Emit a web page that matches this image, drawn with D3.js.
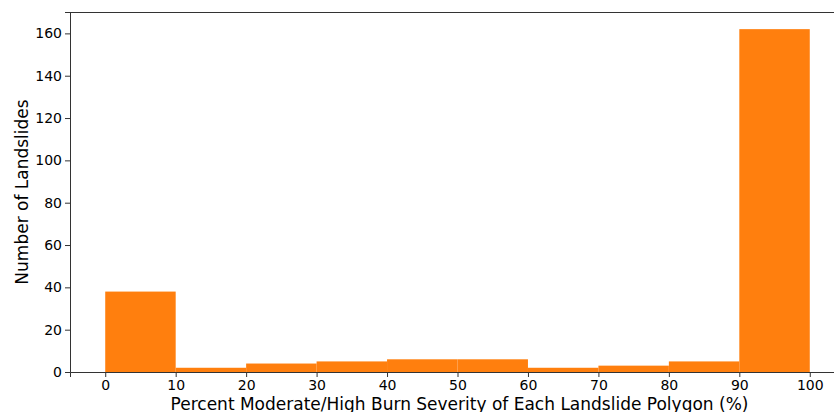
<!DOCTYPE html>
<html>
<head>
<meta charset="utf-8">
<script src="https://cdn.jsdelivr.net/npm/d3@7"></script>
<style>
  html, body { margin: 0; padding: 0; background: #fff; }
  svg { display: block; }
  text { font-family: "DejaVu Sans", sans-serif; fill: #000; }
</style>
</head>
<body>
<svg id="chart" width="834" height="412"></svg>
<script>
// Histogram bins (percent moderate/high burn severity) and landslide counts
const binStarts = [0, 10, 20, 30, 40, 50, 60, 70, 80, 90];
const binWidth = 10;
const counts = [38, 2, 4, 5, 6, 6, 2, 3, 5, 162];
const xTicks = [0, 10, 20, 30, 40, 50, 60, 70, 80, 90, 100];
const yTicks = [0, 20, 40, 60, 80, 100, 120, 140, 160];
const xLabel = "Percent Moderate/High Burn Severity of Each Landslide Polygon (%)";
const yLabel = "Number of Landslides";

const svg = d3.select("#chart");
const plotLeft = 70, plotRight = 845, plotTop = 12, plotBottom = 372;

const x = d3.scaleLinear().domain([-5, 105]).range([plotLeft, plotRight]);
const y = d3.scaleLinear().domain([0, d3.max(counts) * 1.05]).range([plotBottom, plotTop]);

// bars
svg.append("g").selectAll("rect")
  .data(binStarts.map((s, i) => ({ s, c: counts[i] })))
  .join("rect")
  .attr("x", d => x(d.s))
  .attr("width", d => x(d.s + binWidth) - x(d.s))
  .attr("y", d => y(d.c))
  .attr("height", d => y(0) - y(d.c))
  .attr("fill", "#ff7f0e");

// left and top spines
const spineColor = "#333";
svg.append("line").attr("x1", plotLeft + 0.5).attr("x2", plotLeft + 0.5).attr("y1", plotTop).attr("y2", plotBottom)
  .attr("stroke", spineColor).attr("stroke-width", 1);
svg.append("line").attr("x1", plotLeft).attr("x2", plotRight).attr("y1", plotTop + 0.5).attr("y2", plotTop + 0.5)
  .attr("stroke", spineColor).attr("stroke-width", 1);

// axes
const xAxis = svg.append("g").attr("transform", `translate(0,${plotBottom})`)
  .call(d3.axisBottom(x).tickValues(xTicks).tickFormat(d3.format("d")).tickSize(5).tickPadding(3));
const yAxis = svg.append("g").attr("transform", `translate(${plotLeft},0)`)
  .call(d3.axisLeft(y).tickValues(yTicks).tickFormat(d3.format("d")).tickSize(5).tickPadding(3));

[xAxis, yAxis].forEach(g => {
  g.select(".domain").attr("stroke", spineColor);
  g.selectAll(".tick line").attr("stroke", spineColor);
  g.selectAll(".tick text").attr("font-size", "14px").attr("font-family", "DejaVu Sans, sans-serif").attr("fill", "#000");
});

// axis labels
svg.append("text")
  .attr("x", (plotLeft + plotRight) / 2 + 2)
  .attr("y", 410)
  .attr("text-anchor", "middle")
  .attr("font-size", "17px")
  .text(xLabel);

svg.append("text")
  .attr("transform", `translate(28,${(plotTop + plotBottom) / 2}) rotate(-90)`)
  .attr("text-anchor", "middle")
  .attr("font-size", "17px")
  .text(yLabel);
</script>
</body>
</html>
